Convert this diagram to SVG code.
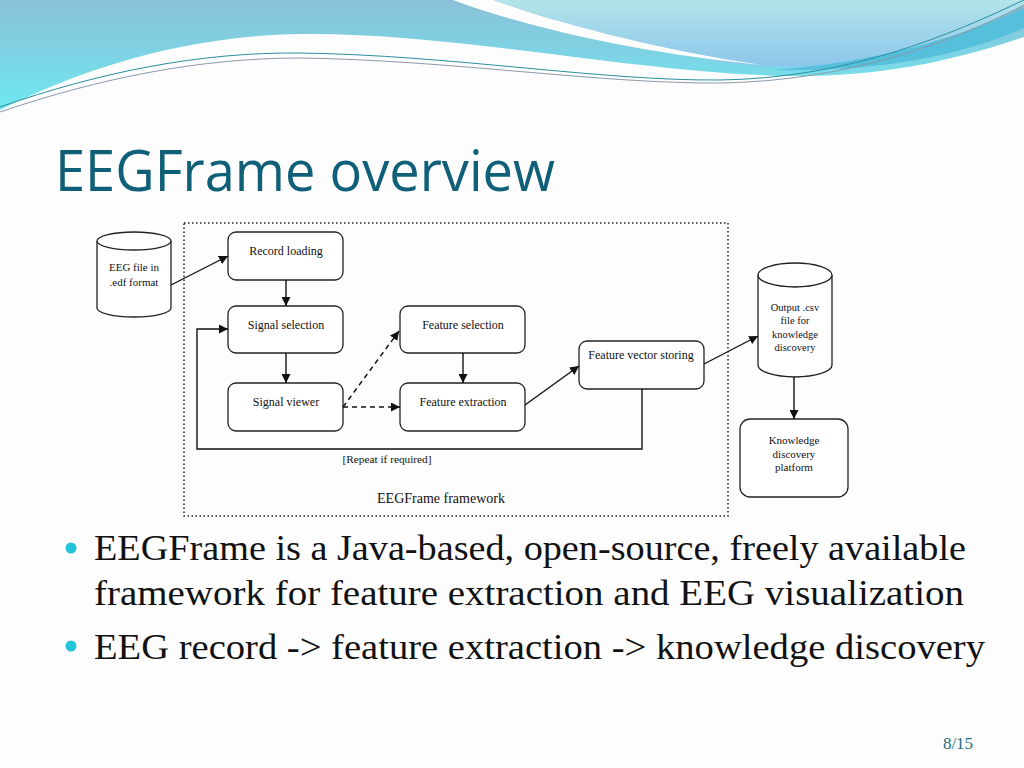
<svg xmlns="http://www.w3.org/2000/svg" width="1024" height="768" viewBox="0 0 1024 768">
<defs>
<linearGradient id="gMain" x1="0" y1="0" x2="0" y2="1">
<stop offset="0" stop-color="#8bc0d8"/>
<stop offset="1" stop-color="#6ee8f0"/>
</linearGradient>
<linearGradient id="gLight" x1="0" y1="0" x2="0" y2="1">
<stop offset="0" stop-color="#b2e4e8"/>
<stop offset="1" stop-color="#8cc6ec"/>
</linearGradient>
<marker id="arr" viewBox="0 0 10 10" refX="10" refY="5" markerWidth="9" markerHeight="9" markerUnits="userSpaceOnUse" orient="auto">
<path d="M0,0 L10,5 L0,10 Z" fill="#111"/>
</marker>
</defs>
<style>
.box{fill:#fff;stroke:#222;stroke-width:1.3}
.lbl{font-size:12px;fill:#111;text-anchor:middle}
.sm{font-size:11px}
.con{fill:none;stroke:#111;stroke-width:1.4}
.dash{stroke-dasharray:5 4}
.bul{font-size:35px;fill:#111}
</style>
<rect width="1024" height="768" fill="#fdfdfd"/>
<g id="header">
<path d="M0,0 H1024 V37 C950,62 880,76 800,76 C650,76 460,32 300,34 C180,36 80,70 0,110 Z" fill="url(#gMain)"/>
<path d="M493,0 H1024 V4 C960,38 880,64 790,67 C700,68 600,32 512,7 Z" fill="url(#gLight)"/>
<path d="M453,0 L493,0 C560,24 660,50 762,65 C650,54 540,32 453,0 Z" fill="#fdfdfd"/>
<path d="M770,70 C870,64 960,38 1024,8 V28 C960,56 880,72 770,70 Z" fill="#55bfdc"/>
<path d="M0,107 C100,72 200,52 300,53 C450,55 600,81 720,80 C850,78 950,35 1024,0" fill="none" stroke="#2a8fa0" stroke-width="1"/>
<path d="M0,112 C100,78 200,58 300,58 C450,60 600,84 720,83 C850,81 950,42 1024,6" fill="none" stroke="#8a9aaa" stroke-width="1"/>
</g>
<text id="title" x="55" y="191" font-family="Open Sans, sans-serif" font-size="57" fill="#0f5f78" textLength="500" lengthAdjust="spacingAndGlyphs">EEGFrame overview</text>
<g font-family="Liberation Serif, serif">
<g id="framework">
<rect x="184" y="223" width="544" height="293" fill="none" stroke="#222" stroke-width="1.5" stroke-dasharray="1.5 2.5"/>
<text class="lbl" x="441" y="503" style="font-size:14px">EEGFrame framework</text>
</g>
<g id="eeg-file">
<path d="M97,241 V308 A37,9 0 0 0 171,308 V241" class="box"/>
<ellipse cx="134" cy="241" rx="37" ry="9" class="box"/>
<text class="lbl sm" x="134" y="271">EEG file in</text>
<text class="lbl sm" x="134" y="286">.edf format</text>
</g>
<g id="record-loading">
<rect class="box" x="228" y="232" width="115" height="48" rx="8"/>
<text class="lbl" x="286" y="255">Record loading</text>
</g>
<g id="signal-selection">
<rect class="box" x="228" y="306" width="115" height="47" rx="8"/>
<text class="lbl" x="286" y="329">Signal selection</text>
</g>
<g id="signal-viewer">
<rect class="box" x="228" y="383" width="115" height="48" rx="8"/>
<text class="lbl" x="286" y="406">Signal viewer</text>
</g>
<g id="feature-selection">
<rect class="box" x="400" y="306" width="125" height="47" rx="8"/>
<text class="lbl" x="463" y="329">Feature selection</text>
</g>
<g id="feature-extraction">
<rect class="box" x="400" y="383" width="125" height="48" rx="8"/>
<text class="lbl" x="463" y="406">Feature extraction</text>
</g>
<g id="feature-vector-storing">
<rect class="box" x="579" y="341" width="125" height="48" rx="8"/>
<text class="lbl" x="641" y="359">Feature vector storing</text>
</g>
<g id="output-csv">
<path d="M758,275 V365 A37,12 0 0 0 832,365 V275" class="box"/>
<ellipse cx="795" cy="275" rx="37" ry="12" class="box"/>
<text class="lbl" x="795" y="311" style="font-size:10.5px">Output .csv</text>
<text class="lbl" x="795" y="324" style="font-size:10.5px">file for</text>
<text class="lbl" x="795" y="338" style="font-size:10.5px">knowledge</text>
<text class="lbl" x="795" y="351" style="font-size:10.5px">discovery</text>
</g>
<g id="knowledge-platform">
<rect class="box" x="740" y="419" width="108" height="78" rx="10"/>
<text class="lbl sm" x="794" y="444">Knowledge</text>
<text class="lbl sm" x="794" y="458">discovery</text>
<text class="lbl sm" x="794" y="471">platform</text>
</g>
<g id="connectors">
<line class="con" x1="171" y1="285" x2="228" y2="256" marker-end="url(#arr)"/>
<line class="con" x1="286" y1="280" x2="286" y2="306" marker-end="url(#arr)"/>
<line class="con" x1="286" y1="353" x2="286" y2="383" marker-end="url(#arr)"/>
<line class="con dash" x1="343" y1="407" x2="399" y2="331" marker-end="url(#arr)"/>
<line class="con dash" x1="343" y1="407" x2="400" y2="407" marker-end="url(#arr)"/>
<line class="con" x1="463" y1="353" x2="463" y2="383" marker-end="url(#arr)"/>
<line class="con" x1="525" y1="405" x2="579" y2="366" marker-end="url(#arr)"/>
<line class="con" x1="704" y1="364" x2="758" y2="336" marker-end="url(#arr)"/>
<line class="con" x1="794" y1="377" x2="794" y2="419" marker-end="url(#arr)"/>
<polyline class="con" points="642,389 642,449 197,449 197,329 228,329" marker-end="url(#arr)"/>
<text class="lbl" x="387" y="463" style="font-size:11.3px">[Repeat if required]</text>
</g>
<g id="bullets">
<circle cx="71" cy="548" r="5.5" fill="#22c4d8"/>
<circle cx="71" cy="646" r="5.5" fill="#22c4d8"/>
<text class="bul" x="94" y="560" textLength="872" lengthAdjust="spacingAndGlyphs">EEGFrame is a Java-based, open-source, freely available</text>
<text class="bul" x="94" y="605" textLength="870" lengthAdjust="spacingAndGlyphs">framework for feature extraction and EEG visualization</text>
<text class="bul" x="94" y="659" textLength="891" lengthAdjust="spacingAndGlyphs">EEG record -&gt; feature extraction -&gt; knowledge discovery</text>
</g>
<text id="page" x="958" y="749" font-size="17" fill="#1f6f82" text-anchor="middle">8/15</text>
</g>
</svg>
